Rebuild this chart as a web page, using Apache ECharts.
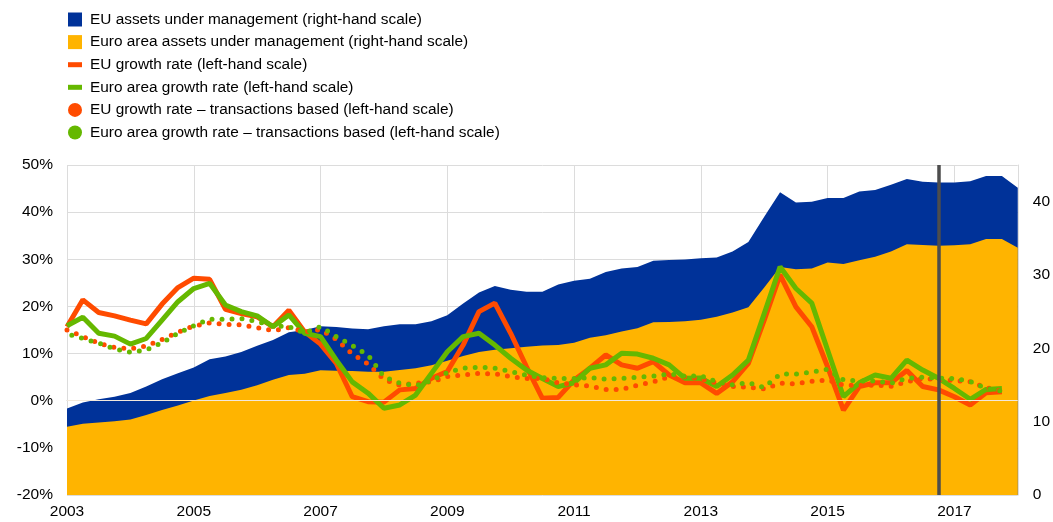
<!DOCTYPE html>
<html><head><meta charset="utf-8">
<script src="https://cdn.jsdelivr.net/npm/echarts@6/dist/echarts.min.js"></script>
<style>html,body{margin:0;padding:0;background:#fff}#c{width:1053px;height:522px}</style>
</head><body><div id="c"></div>
<script>
const categories = [
 '2003Q1','2003Q2','2003Q3','2003Q4','2004Q1','2004Q2','2004Q3','2004Q4',
 '2005Q1','2005Q2','2005Q3','2005Q4','2006Q1','2006Q2','2006Q3','2006Q4',
 '2007Q1','2007Q2','2007Q3','2007Q4','2008Q1','2008Q2','2008Q3','2008Q4',
 '2009Q1','2009Q2','2009Q3','2009Q4','2010Q1','2010Q2','2010Q3','2010Q4',
 '2011Q1','2011Q2','2011Q3','2011Q4','2012Q1','2012Q2','2012Q3','2012Q4',
 '2013Q1','2013Q2','2013Q3','2013Q4','2014Q1','2014Q2','2014Q3','2014Q4',
 '2015Q1','2015Q2','2015Q3','2015Q4','2016Q1','2016Q2','2016Q3','2016Q4',
 '2017Q1','2017Q2','2017Q3','2017Q4','2018Q1'
];
const euAssets = [11.8,12.6,13.05,13.4,13.9,14.8,15.8,16.6,17.4,18.5,18.9,19.5,20.35,21.15,22.2,22.5,
 23.0,22.9,22.7,22.6,23.0,23.3,23.3,23.7,24.5,26.1,27.6,28.5,28.0,27.7,27.7,28.7,
 29.2,29.5,30.4,30.9,31.1,31.95,32.05,32.1,32.3,32.4,33.2,34.5,37.95,41.3,39.9,40.0,
 40.5,40.5,41.4,41.6,42.3,43.1,42.7,42.6,42.6,42.8,43.5,43.5,41.9];
const euroAreaAssets = [9.3,9.7,9.9,10.05,10.3,10.9,11.6,12.2,12.9,13.5,13.9,14.35,14.95,15.7,16.35,16.55,
 17.0,16.95,16.9,16.8,16.8,17.05,17.3,17.7,18.3,18.95,19.5,19.8,20.0,20.2,20.4,20.45,
 20.75,21.45,21.8,22.3,22.75,23.55,23.6,23.7,23.9,24.3,24.9,25.6,28.3,31.1,30.8,30.9,
 31.7,31.5,32.0,32.5,33.2,34.2,34.1,34.0,34.05,34.2,34.9,34.9,33.7];
const euGrowth = [15.7,21.4,18.7,18.0,17.1,16.3,20.5,24.0,26.0,25.75,19.4,18.5,17.8,15.7,19.2,14.6,
 12.0,7.9,0.85,-0.2,-0.3,2.3,2.6,4.75,6.2,11.8,18.9,20.7,14.3,7.2,0.5,0.7,
 4.4,6.9,9.7,7.6,6.9,8.3,5.45,3.8,3.8,1.55,4.0,7.9,17.1,26.7,19.9,15.7,
 7.2,-2.0,3.0,3.8,3.8,6.4,3.0,2.3,0.85,-0.9,1.7,1.9];
const euroAreaGrowth = [15.9,17.7,14.3,13.7,12.0,13.2,17.1,21.0,23.8,24.9,20.3,18.9,18.0,15.7,18.2,14.3,
 13.6,8.6,4.0,1.6,-1.6,-0.9,1.2,5.8,10.4,13.6,14.3,11.8,9.0,6.5,4.7,3.0,
 3.8,6.9,7.6,10.05,9.9,9.0,7.6,4.75,4.8,3.0,5.45,8.6,18.5,28.4,23.8,20.7,
 10.75,0.85,3.8,5.45,4.75,8.6,6.5,4.75,2.6,0.3,2.4,2.6];
const euGrowthTx = [15.0,13.6,12.2,11.3,11.0,11.6,13.0,14.5,15.85,16.5,16.2,16.1,15.5,14.85,15.5,14.6,
 15.1,13.0,9.9,7.8,4.5,3.3,3.7,4.0,5.1,5.45,5.8,5.7,5.1,4.7,4.7,3.8,
 3.4,3.1,2.4,2.4,3.3,4.0,5.1,5.1,4.6,3.8,3.0,2.9,2.5,3.7,3.6,4.1,
 4.4,3.3,3.3,3.3,3.05,4.0,4.7,4.5,4.3,4.0,2.8,2.05];
const euroAreaGrowthTx = [14.15,13.2,12.2,11.0,10.3,10.75,12.3,14.3,15.9,17.3,17.3,17.4,16.8,15.85,15.7,14.4,
 15.7,13.6,11.7,9.7,5.1,3.7,3.2,4.25,6.0,6.9,7.1,6.9,6.2,5.4,4.9,4.75,
 4.7,4.9,4.6,4.7,5.0,5.2,5.7,5.2,5.3,4.0,3.4,3.8,2.8,5.65,5.65,6.1,
 6.7,4.4,4.2,4.2,3.7,4.75,5.0,4.75,4.7,4.1,2.6,2.05];
const markerQuarter = '2016Q4';
const names = [
 'EU assets under management (right-hand scale)',
 'Euro area assets under management (right-hand scale)',
 'EU growth rate (left-hand scale)',
 'Euro area growth rate (left-hand scale)',
 'EU growth rate \u2013 transactions based (left-hand scale)',
 'Euro area growth rate \u2013 transactions based (left-hand scale)'
];
const C = {blue:'#003299', yellow:'#ffb400', orange:'#ff4b00', green:'#65b800'};
const FONT = 'Liberation Sans, Arial, sans-serif';
const FS = 15.5;
const sq = 'path://M0,0H13V13H0Z', ln = 'path://M0,0H14V5H0Z';

const chart = echarts.init(document.getElementById('c'), null, {renderer:'canvas'});
chart.setOption({
  animation:false,
  textStyle:{fontFamily:FONT},
  legend:{
    orient:'vertical', left:63, top:7, itemWidth:14, itemHeight:14, itemGap:7.6,
    textStyle:{fontSize:15.4, lineHeight:15, color:'#000', fontFamily:FONT, padding:[0,0,0,3]},
    data:[
      {name:names[0], icon:sq},{name:names[1], icon:sq},
      {name:names[2], icon:ln},{name:names[3], icon:ln},
      {name:names[4], icon:'circle'},{name:names[5], icon:'circle'}
    ]
  },
  grid:{left:67, right:35, top:165, bottom:27},
  xAxis:{
    type:'category', data:categories, boundaryGap:false,
    axisTick:{show:false},
    axisLine:{lineStyle:{color:'#c8c8c8'}},
    axisLabel:{interval:7, margin:9, fontSize:FS, color:'#000', fontFamily:FONT,
      formatter:v=>v.slice(0,4)},
    splitLine:{show:true, interval:7, lineStyle:{color:'#dcdcdc'}}
  },
  yAxis:[
    {type:'value', min:-20, max:50, interval:10, position:'left',
     axisLine:{show:false}, axisTick:{show:false},
     axisLabel:{formatter:'{value}%', fontSize:FS, color:'#000', margin:14, fontFamily:FONT},
     splitLine:{lineStyle:{color:'#dcdcdc'}}},
    {type:'value', min:0, max:45, interval:10, position:'right',
     axisLine:{show:true, lineStyle:{color:'#dcdcdc'}}, axisTick:{show:false},
     axisLabel:{fontSize:FS, color:'#000', margin:15, showMaxLabel:false, fontFamily:FONT},
     splitLine:{show:false}}
  ],
  series:[
    {name:names[0], type:'line', yAxisIndex:1, data:euAssets, symbol:'none',
     lineStyle:{width:0}, areaStyle:{color:C.blue, opacity:1}, itemStyle:{color:C.blue}},
    {name:names[1], type:'line', yAxisIndex:1, data:euroAreaAssets, symbol:'none',
     lineStyle:{width:0}, areaStyle:{color:C.yellow, opacity:1}, itemStyle:{color:C.yellow}},
    {type:'line', yAxisIndex:0, data:[], symbol:'none',
     markLine:{silent:true, symbol:'none', label:{show:false},
       lineStyle:{color:'#f2e8dc', width:1.2, type:'solid'}, data:[{yAxis:0}]}},
    {name:names[2], type:'line', data:euGrowth, symbol:'none',
     lineStyle:{width:5, color:C.orange}, itemStyle:{color:C.orange}},
    {name:names[3], type:'line', data:euroAreaGrowth, symbol:'none',
     lineStyle:{width:5, color:C.green}, itemStyle:{color:C.green}},
    {name:names[4], type:'line', data:euGrowthTx, symbol:'none',
     lineStyle:{width:5, color:C.orange, type:[0,10], cap:'round'}, itemStyle:{color:C.orange}},
    {name:names[5], type:'line', data:euroAreaGrowthTx, symbol:'none',
     lineStyle:{width:5, color:C.green, type:[0,10], cap:'round', dashOffset:5}, itemStyle:{color:C.green}},
    {type:'line', data:[], symbol:'none', z:10,
     markLine:{silent:true, symbol:'none', label:{show:false},
       lineStyle:{color:'#4d4d4d', width:3.5, type:'solid'}, data:[{xAxis:markerQuarter}]}}
  ]
});
</script></body></html>
